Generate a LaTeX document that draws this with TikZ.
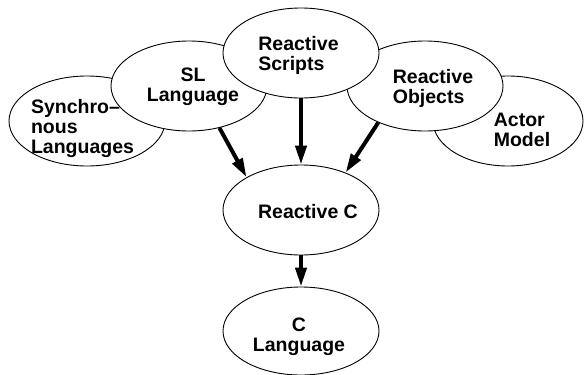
\documentclass[tikz,border=0pt]{standalone}
\usepackage{fontspec}
\setmainfont{Liberation Sans}
\usetikzlibrary{shapes.geometric,arrows.meta}
\begin{document}
\begin{tikzpicture}
[x=1pt,y=-1pt,
blob/.style={ellipse,draw,fill=white,line width=0.9pt,inner sep=0pt,minimum width=156pt,minimum height=90pt},
txt/.style={font=\bfseries\fontsize{19.5}{20}\selectfont,inner sep=0pt},
arr/.style={line width=4pt,-{Triangle[length=19pt,width=11pt]}}]
\useasboundingbox (0,0) rectangle (584,375);
% ellipses, back to front
\node[blob] (sync) at (87,121) {};
\node[blob] (sl) at (189,86) {};
\node[blob,minimum width=150pt] (actor) at (508,121) {};
\node[blob] (objects) at (425,86) {};
\node[blob] (scripts) at (301,53) {};
\node[blob] (reactc) at (301,210) {};
\node[blob,minimum height=88pt] (clang) at (301,331) {};
% texts
\node[txt,align=left] (syncT) at ([shift={(-4.5,7)}]sync) {Synchro\textendash\\nous\\Languages};
\node[txt,align=center] (slT) at ([shift={(4,1)}]sl) {SL\\Language};
\node[txt,align=left] (scriptsT) at ([shift={(-2.5,2)}]scripts) {Reactive\\Scripts};
\node[txt,align=left] (objectsT) at ([shift={(8,2)}]objects) {Reactive\\Objects};
\node[txt,align=left] (actorT) at ([shift={(14,9)}]actor) {Actor\\Model};
\node[txt] (reactcT) at ([shift={(7,2)}]reactc) {Reactive C};
\node[txt,align=center] (clangT) at ([shift={(-2,6)}]clang) {C\\Language};
% arrows
\draw[arr] (sl.-54) -- (reactc.149);
\draw[arr] (scripts.south) -- (reactc.north);
\draw[arr] (objects.-142) -- (reactc.40);
\draw[arr] (reactc.south) -- (clang.north);
\end{tikzpicture}
\end{document}
